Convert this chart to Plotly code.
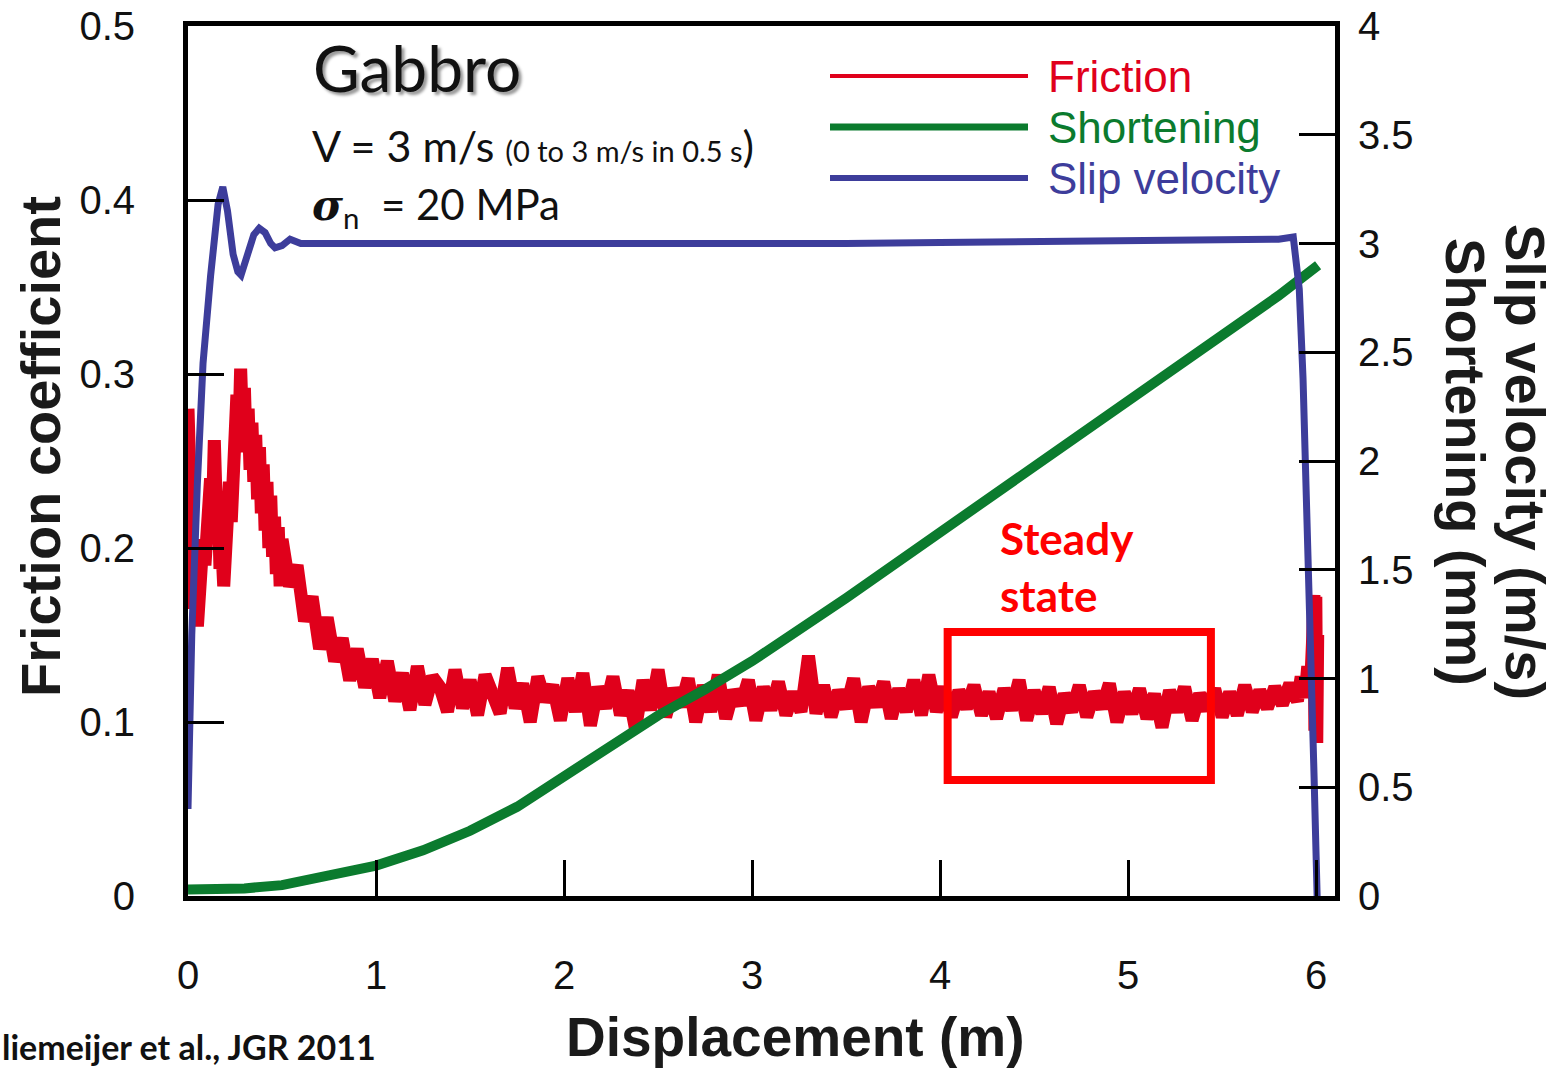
import plotly.graph_objects as go

# ---------------- data ----------------
# Friction coefficient (left axis)
fric_early_y = [0.28, 0.24, 0.2, 0.165, 0.175, 0.155, 0.185, 0.165, 0.205, 0.19,
                0.22, 0.2, 0.24, 0.218, 0.262, 0.225, 0.23, 0.188, 0.2, 0.178,
                0.215, 0.195, 0.238, 0.215, 0.268, 0.245, 0.288, 0.262, 0.303, 0.27,
                0.292, 0.255, 0.28, 0.245, 0.272, 0.238, 0.265, 0.228, 0.258, 0.22,
                0.248, 0.21, 0.238, 0.2, 0.23, 0.195, 0.218, 0.185, 0.212, 0.178]
fric_early_x = [round(0.01 * i, 3) for i in range(len(fric_early_y))]

fric_main_y = [0.205, 0.178, 0.19, 0.158, 0.172, 0.142, 0.16, 0.135, 0.148, 0.124,
               0.142, 0.12, 0.136, 0.114, 0.135, 0.112, 0.128, 0.107, 0.132, 0.11,
               0.126, 0.12, 0.106, 0.13, 0.108, 0.124, 0.104, 0.127, 0.118, 0.105,
               0.131, 0.108, 0.122, 0.1, 0.126, 0.112, 0.121, 0.101, 0.125, 0.106,
               0.128, 0.098, 0.12, 0.108, 0.126, 0.104, 0.118, 0.096, 0.124, 0.107,
               0.13, 0.103, 0.119, 0.109, 0.125, 0.1, 0.121, 0.106, 0.127, 0.102,
               0.118, 0.11, 0.124, 0.101, 0.12, 0.107, 0.123, 0.104, 0.117, 0.106,
               0.138, 0.105, 0.121, 0.103, 0.118, 0.108, 0.125, 0.1, 0.12, 0.109,
               0.123, 0.102, 0.119, 0.106, 0.124, 0.104, 0.127, 0.106, 0.12, 0.103,
               0.118, 0.108, 0.121, 0.104, 0.117, 0.102, 0.119, 0.107, 0.124, 0.101,
               0.118, 0.105, 0.12, 0.099, 0.116, 0.106, 0.121, 0.103, 0.117, 0.108,
               0.122, 0.1, 0.117, 0.105, 0.119, 0.102, 0.116, 0.097, 0.118, 0.106,
               0.12, 0.101, 0.116, 0.107, 0.119, 0.103, 0.117, 0.104, 0.121, 0.106,
               0.118, 0.108, 0.12, 0.11, 0.122, 0.112]
fric_main_x = [round(0.5 + 0.04 * i, 3) for i in range(len(fric_main_y))]

fric_tail_x = [5.92, 5.94, 5.955, 5.97, 5.98, 5.988, 5.993, 5.998, 6.003, 6.008]
fric_tail_y = [0.126, 0.114, 0.132, 0.12, 0.145, 0.173, 0.095, 0.172, 0.088, 0.15]

fric_x = fric_early_x + fric_main_x + fric_tail_x
fric_y = fric_early_y + fric_main_y + fric_tail_y

# Shortening (mm, right axis)
sht_x = [0.0, 0.3, 0.5, 0.75, 1.0, 1.25, 1.5, 1.75, 2.0, 2.25, 2.5, 2.75, 3.0,
         3.5, 4.0, 4.5, 5.0, 5.5, 5.8, 6.01]
sht_y = [0.03, 0.035, 0.05, 0.09, 0.14, 0.21, 0.3, 0.41, 0.55, 0.7, 0.83, 0.95, 1.08,
         1.37, 1.67, 1.97, 2.27, 2.58, 2.76, 2.9]

# Slip velocity (m/s, right axis)
vel_x = [0.0, 0.02, 0.05, 0.08, 0.12, 0.16, 0.185, 0.21, 0.24, 0.265,
         0.282, 0.31, 0.35, 0.379, 0.41, 0.44, 0.463, 0.5, 0.543, 0.6,
         1.0, 1.5, 2.0, 2.5, 3.0, 3.5, 4.0, 4.5, 5.0, 5.5,
         5.8, 5.878, 5.91, 5.93, 5.952, 5.968, 5.989, 6.005]
vel_y = [0.4, 1.2, 1.9, 2.45, 2.85, 3.18, 3.26, 3.15, 2.95, 2.87,
         2.855, 2.93, 3.04, 3.07, 3.05, 3.0, 2.98, 2.99, 3.02, 3.0,
         3.0, 2.995, 3.0, 3.0, 3.0, 3.0, 3.005, 3.01, 3.01, 3.015,
         3.02, 3.03, 2.79, 2.38, 1.77, 1.16, 0.54, 0.0]

x_ticks = [0, 1, 2, 3, 4, 5, 6]
y_ticks = [0, 0.1, 0.2, 0.3, 0.4, 0.5]
y_tick_text = ["0", "0.1", "0.2", "0.3", "0.4", "0.5"]
y2_ticks = [0, 0.5, 1, 1.5, 2, 2.5, 3, 3.5, 4]
y2_tick_text = ["0", "0.5", "1", "1.5", "2", "2.5", "3", "3.5", "4"]

RED = "#e0001b"
GREEN = "#0b7b2e"
BLUE = "#3d3d9b"

# ---------------- layout helpers (pixel -> paper) ----------------
L, R, T, B = 188, 1335, 26, 896
def px(x):
    return (x - L) / (R - L)
def py(y):
    return (B - y) / (B - T)

fig = go.Figure()
fig.add_trace(go.Scatter(x=fric_x, y=fric_y, mode="lines", yaxis="y",
                         line=dict(color=RED, width=13), showlegend=False))
fig.add_trace(go.Scatter(x=sht_x, y=sht_y, mode="lines", yaxis="y2",
                         line=dict(color=GREEN, width=10), showlegend=False))
fig.add_trace(go.Scatter(x=vel_x, y=vel_y, mode="lines", yaxis="y2",
                         line=dict(color=BLUE, width=7), showlegend=False))

tickfont = dict(family="Liberation Sans, Arial, sans-serif", size=40, color="#111")

fig.update_layout(
    width=1564, height=1069,
    margin=dict(l=L, r=1564 - R, t=T, b=1069 - B, pad=0, autoexpand=False),
    paper_bgcolor="white", plot_bgcolor="white",
    xaxis=dict(range=[0, 6.1], tickvals=x_ticks, ticktext=[str(v) for v in x_ticks],
               ticks="inside", ticklen=36, tickwidth=3, tickcolor="black",
               showline=True, mirror=True, linewidth=5, linecolor="black",
               showgrid=False, zeroline=False, tickfont=tickfont,
               ticklabelstandoff=40, automargin=False),
    yaxis=dict(range=[0, 0.5], tickvals=y_ticks, ticktext=y_tick_text,
               ticks="inside", ticklen=36, tickwidth=3, tickcolor="black",
               showline=True, mirror=True, linewidth=5, linecolor="black",
               showgrid=False, zeroline=False, tickfont=tickfont,
               ticklabelstandoff=40, automargin=False),
    yaxis2=dict(range=[0, 4], tickvals=y2_ticks, ticktext=y2_tick_text,
                overlaying="y", side="right",
                ticks="inside", ticklen=36, tickwidth=3, tickcolor="black",
                showline=False, showgrid=False, zeroline=False, tickfont=tickfont,
                ticklabelstandoff=22, automargin=False),
)

title_font = dict(family="Liberation Sans, Arial, sans-serif", size=56, color="#1a1a1a")
calibri = "Lato, 'Noto Sans', sans-serif"

annotations = [
    dict(text="<b>Friction coefficient</b>", x=px(40), y=py(447), textangle=-90,
         font=title_font, xanchor="center", yanchor="middle"),
    dict(text="<b>Displacement (m)</b>", x=px(795), y=py(1037),
         font=dict(family="Liberation Sans, Arial, sans-serif", size=55, color="#1a1a1a"),
         xanchor="center", yanchor="middle"),
    dict(text="<b>Shortening (mm)</b>", x=px(1465), y=py(462), textangle=90,
         font=title_font, xanchor="center", yanchor="middle"),
    dict(text="<b>Slip velocity (m/s)</b>", x=px(1525), y=py(462), textangle=90,
         font=title_font, xanchor="center", yanchor="middle"),
    dict(text="Gabbro", x=px(311), y=py(67), xanchor="left", yanchor="middle",
         font=dict(family=calibri, size=64, color="#111", shadow="3px 3px 3px #999")),
    dict(text="V = 3 m/s <span style='font-size:29px'>(0 to 3 m/s in 0.5 s</span>)",
         x=px(310), y=py(145), xanchor="left", yanchor="middle",
         font=dict(family=calibri, size=43, color="#111")),
    dict(text="<span style='font-family:DejaVu Serif'><b><i>σ</i></b></span><sub>n</sub>\u00a0\u00a0= 20 MPa",
         x=px(310), y=py(207), xanchor="left", yanchor="middle",
         font=dict(family=calibri, size=42, color="#111")),
    dict(text="Friction", x=px(1046), y=py(76), xanchor="left", yanchor="middle",
         font=dict(family="Liberation Sans, Arial", size=44, color=RED)),
    dict(text="Shortening", x=px(1046), y=py(127), xanchor="left", yanchor="middle",
         font=dict(family="Liberation Sans, Arial", size=44, color=GREEN)),
    dict(text="Slip velocity", x=px(1046), y=py(178), xanchor="left", yanchor="middle",
         font=dict(family="Liberation Sans, Arial", size=44, color=BLUE)),
    dict(text="<b>Steady<br>state</b>", x=px(998), y=py(566), xanchor="left", yanchor="middle",
         align="left", font=dict(family=calibri, size=44, color="#ff0000")),
    dict(text="<b>liemeijer et al., JGR 2011</b>", x=px(0), y=py(1046),
         xanchor="left", yanchor="middle",
         font=dict(family=calibri, size=34, color="#111")),
]
for a in annotations:
    a.update(xref="paper", yref="paper", showarrow=False)
fig.update_layout(annotations=annotations)

shapes = [
    dict(type="line", xref="paper", yref="paper", x0=px(830), x1=px(1028), y0=py(76), y1=py(76),
         line=dict(color=RED, width=4)),
    dict(type="line", xref="paper", yref="paper", x0=px(830), x1=px(1028), y0=py(127), y1=py(127),
         line=dict(color=GREEN, width=7)),
    dict(type="line", xref="paper", yref="paper", x0=px(830), x1=px(1028), y0=py(178), y1=py(178),
         line=dict(color=BLUE, width=6)),
    dict(type="rect", xref="x", yref="y", x0=4.04, x1=5.44, y0=0.0667, y1=0.1517,
         line=dict(color="#ff0000", width=8)),
]
fig.update_layout(shapes=shapes)

fig.write_html("out.html")
